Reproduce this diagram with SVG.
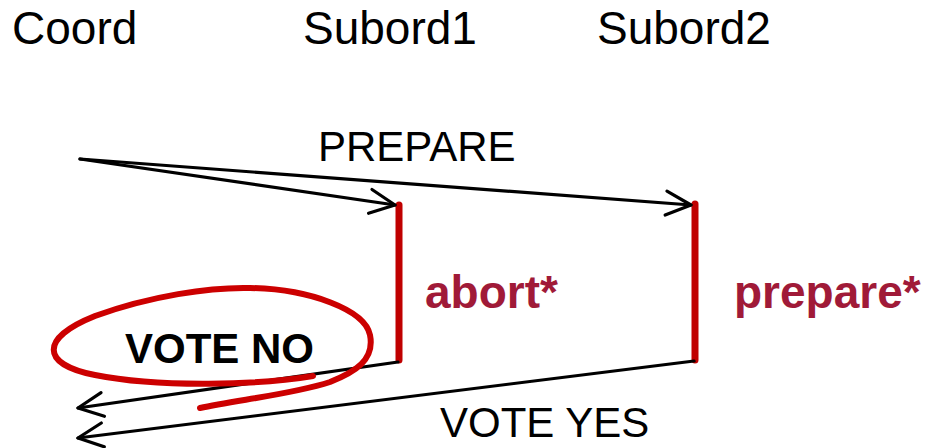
<svg xmlns="http://www.w3.org/2000/svg" width="927" height="448" viewBox="0 0 927 448">
  <style>
    .head { font-family: "Liberation Sans", Arial, sans-serif; font-size: 46px; fill: #000; }
    .msg { font-family: "Liberation Sans", Arial, sans-serif; font-size: 42px; fill: #000; }
    .bold { font-weight: bold; }
    .state { font-family: "Liberation Sans", Arial, sans-serif; font-size: 46px; font-weight: bold; fill: #a01a38; }
    .arrow { stroke: #000; stroke-width: 3.2; fill: none; stroke-linecap: round; marker-end: url(#chev); }
    .bar { stroke: #c00000; stroke-width: 7; stroke-linecap: round; }
  </style>
  <defs>
    <marker id="chev" markerUnits="userSpaceOnUse" markerWidth="40" markerHeight="40" refX="0" refY="0" viewBox="-30 -20 40 40" orient="auto" overflow="visible">
      <path d="M-25,-12 L0,0 L-25,12" fill="none" stroke="#000" stroke-width="3.2" stroke-linecap="round" stroke-linejoin="round"/>
    </marker>
  </defs>
  <rect width="927" height="448" fill="#fff"/>

  <g id="coord"><text class="head" x="12" y="44">Coord</text></g>
  <g id="subord1">
    <text class="head" x="303" y="44">Subord1</text>
    <line class="bar" x1="399" y1="205" x2="399" y2="360"/>
    <text class="state" x="425" y="308">abort*</text>
  </g>
  <g id="subord2">
    <text class="head" x="597" y="44">Subord2</text>
    <line class="bar" x1="695" y1="204" x2="695" y2="360"/>
    <text class="state" x="734" y="308">prepare*</text>
  </g>

  <g id="connectors">
    <line class="arrow" x1="80" y1="159" x2="395" y2="205"/>
    <line class="arrow" x1="80" y1="159" x2="691" y2="205"/>
    <text class="msg" x="318" y="161">PREPARE</text>
    <line class="arrow" x1="398" y1="362" x2="78" y2="408"/>
    <line class="arrow" x1="694" y1="361" x2="78" y2="438"/>
    <text class="msg bold" x="125" y="363">VOTE NO</text>
    <text class="msg" x="440" y="437">VOTE YES</text>
  </g>

  <g id="vote-no-circle">
    <path d="M313,376 C260,385 160,388 95,375 C40,364 40,338 95,316 C150,296 210,287 250,288 C310,289 365,310 370,335 C375,360 355,372 330,382 C290,395 235,400 200,408" fill="none" stroke="#cc0000" stroke-width="6" stroke-linecap="round"/>
  </g>
</svg>
